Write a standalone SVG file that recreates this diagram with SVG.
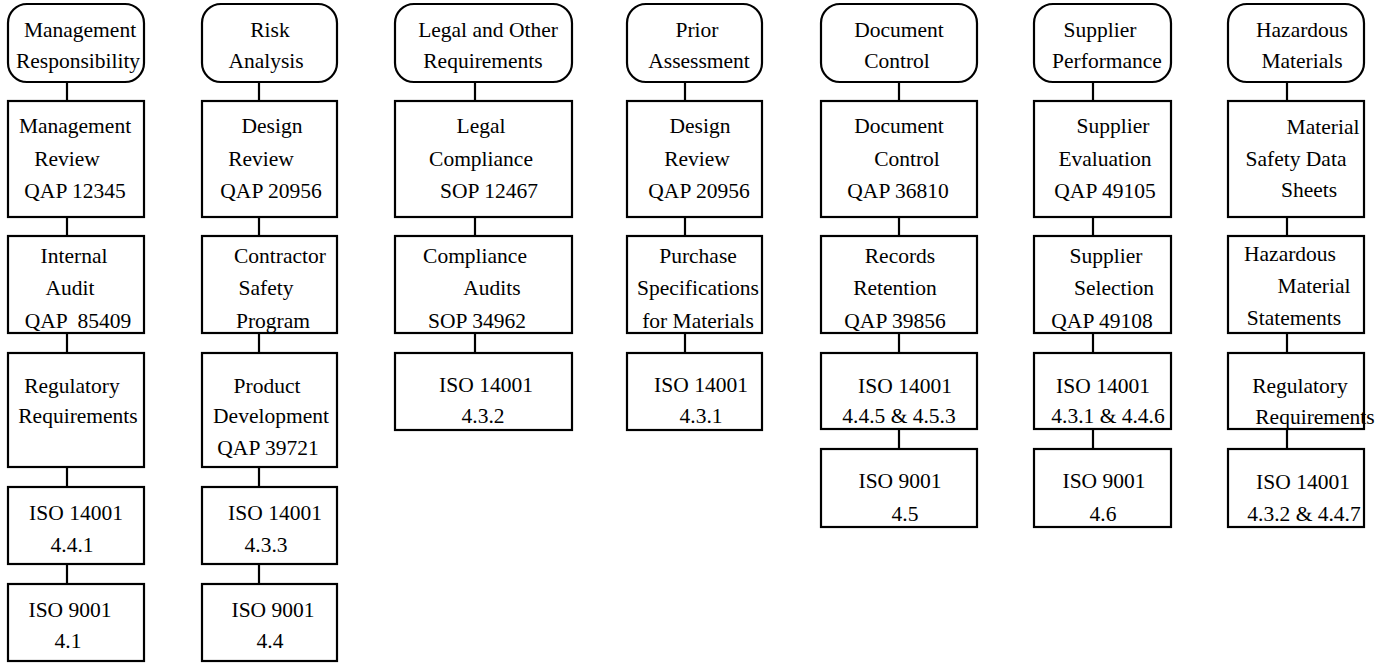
<svg xmlns="http://www.w3.org/2000/svg" width="1382" height="663" viewBox="0 0 1382 663">
<style>
.hd{fill:#fff;stroke:#000;stroke-width:2.2}
.bx{fill:#fff;stroke:#000;stroke-width:2.2}
.ln{stroke:#000;stroke-width:2.2;fill:none}
.t text{font-size:21.5px;fill:#000;text-anchor:middle}
</style>
<rect width="1382" height="663" fill="#fff"/>
<g id="connectors">
<path class="ln" d="M67,82V101M67,217V236M67,333V353M67,467V487M67,564V584"/>
<path class="ln" d="M259,82V101M259,217V236M259,333V353M259,467V487M259,564V584"/>
<path class="ln" d="M475,82V101M475,217V236M475,333V353"/>
<path class="ln" d="M685,82V101M685,217V236M685,333V353"/>
<path class="ln" d="M899,82V101M899,217V236M899,333V353M899,429V449"/>
<path class="ln" d="M1093,82V101M1093,217V236M1093,333V353M1093,429V449"/>
<path class="ln" d="M1287,82V101M1287,217V236M1287,333V353M1287,429V449"/>
</g>
<g class="t" font-family="Liberation Serif, Tinos, Times New Roman, DejaVu Serif, serif">
<!-- Column 1 -->
<g id="c1h"><rect class="hd" x="8" y="4" width="136" height="78" rx="19"/><text x="80" y="37">Management</text><text x="78" y="68">Responsibility</text></g>
<g id="c1a"><rect class="bx" x="8" y="101" width="136" height="116"/><text x="75" y="133">Management</text><text x="67" y="166">Review</text><text x="75" y="198">QAP 12345</text></g>
<g id="c1b"><rect class="bx" x="8" y="236" width="136" height="97"/><text x="74" y="263">Internal</text><text x="70" y="295">Audit</text><text x="78" y="328" xml:space="preserve">QAP  85409</text></g>
<g id="c1c"><rect class="bx" x="8" y="353" width="136" height="114"/><text x="72" y="393">Regulatory</text><text x="78" y="423">Requirements</text></g>
<g id="c1d"><rect class="bx" x="8" y="487" width="136" height="77"/><text x="76" y="520">ISO 14001</text><text x="72" y="552">4.4.1</text></g>
<g id="c1e"><rect class="bx" x="8" y="584" width="136" height="77"/><text x="70" y="617">ISO 9001</text><text x="68" y="648">4.1</text></g>
<!-- Column 2 -->
<g id="c2h"><rect class="hd" x="202" y="4" width="135" height="78" rx="19"/><text x="270" y="37">Risk</text><text x="266" y="68">Analysis</text></g>
<g id="c2a"><rect class="bx" x="202" y="101" width="135" height="116"/><text x="272" y="133">Design</text><text x="261" y="166">Review</text><text x="271" y="198">QAP 20956</text></g>
<g id="c2b"><rect class="bx" x="202" y="236" width="135" height="97"/><text x="280" y="263">Contractor</text><text x="266" y="295">Safety</text><text x="273" y="328">Program</text></g>
<g id="c2c"><rect class="bx" x="202" y="353" width="135" height="114"/><text x="267" y="393">Product</text><text x="271" y="423">Development</text><text x="268" y="455">QAP 39721</text></g>
<g id="c2d"><rect class="bx" x="202" y="487" width="135" height="77"/><text x="275" y="520">ISO 14001</text><text x="266" y="552">4.3.3</text></g>
<g id="c2e"><rect class="bx" x="202" y="584" width="135" height="77"/><text x="273" y="617">ISO 9001</text><text x="270" y="648">4.4</text></g>
<!-- Column 3 -->
<g id="c3h"><rect class="hd" x="395" y="4" width="177" height="78" rx="19"/><text x="488" y="37">Legal and Other</text><text x="483" y="68">Requirements</text></g>
<g id="c3a"><rect class="bx" x="395" y="101" width="177" height="116"/><text x="481" y="133">Legal</text><text x="481" y="166">Compliance</text><text x="489" y="198">SOP 12467</text></g>
<g id="c3b"><rect class="bx" x="395" y="236" width="177" height="97"/><text x="475" y="263">Compliance</text><text x="492" y="295">Audits</text><text x="477" y="328">SOP 34962</text></g>
<g id="c3c"><rect class="bx" x="395" y="353" width="177" height="77"/><text x="486" y="392">ISO 14001</text><text x="483" y="423">4.3.2</text></g>
<!-- Column 4 -->
<g id="c4h"><rect class="hd" x="627" y="4" width="135" height="78" rx="19"/><text x="697" y="37">Prior</text><text x="699" y="68">Assessment</text></g>
<g id="c4a"><rect class="bx" x="627" y="101" width="135" height="116"/><text x="700" y="133">Design</text><text x="697" y="166">Review</text><text x="699" y="198">QAP 20956</text></g>
<g id="c4b"><rect class="bx" x="627" y="236" width="135" height="97"/><text x="698" y="263">Purchase</text><text x="698" y="295">Specifications</text><text x="698" y="328">for Materials</text></g>
<g id="c4c"><rect class="bx" x="627" y="353" width="135" height="77"/><text x="701" y="392">ISO 14001</text><text x="701" y="423">4.3.1</text></g>
<!-- Column 5 -->
<g id="c5h"><rect class="hd" x="821" y="4" width="156" height="78" rx="19"/><text x="899" y="37">Document</text><text x="897" y="68">Control</text></g>
<g id="c5a"><rect class="bx" x="821" y="101" width="156" height="116"/><text x="899" y="133">Document</text><text x="907" y="166">Control</text><text x="898" y="198">QAP 36810</text></g>
<g id="c5b"><rect class="bx" x="821" y="236" width="156" height="97"/><text x="900" y="263">Records</text><text x="895" y="295">Retention</text><text x="895" y="328">QAP 39856</text></g>
<g id="c5c"><rect class="bx" x="821" y="353" width="156" height="76"/><text x="905" y="393">ISO 14001</text><text x="899" y="423">4.4.5 &amp; 4.5.3</text></g>
<g id="c5d"><rect class="bx" x="821" y="449" width="156" height="78"/><text x="900" y="488">ISO 9001</text><text x="905" y="521">4.5</text></g>
<!-- Column 6 -->
<g id="c6h"><rect class="hd" x="1034" y="4" width="137" height="78" rx="19"/><text x="1100" y="37">Supplier</text><text x="1107" y="68">Performance</text></g>
<g id="c6a"><rect class="bx" x="1034" y="101" width="137" height="116"/><text x="1113" y="133">Supplier</text><text x="1105" y="166">Evaluation</text><text x="1105" y="198">QAP 49105</text></g>
<g id="c6b"><rect class="bx" x="1034" y="236" width="137" height="97"/><text x="1106" y="263">Supplier</text><text x="1114" y="295">Selection</text><text x="1102" y="328">QAP 49108</text></g>
<g id="c6c"><rect class="bx" x="1034" y="353" width="137" height="76"/><text x="1103" y="393">ISO 14001</text><text x="1108" y="423">4.3.1 &amp; 4.4.6</text></g>
<g id="c6d"><rect class="bx" x="1034" y="449" width="137" height="78"/><text x="1104" y="488">ISO 9001</text><text x="1103" y="521">4.6</text></g>
<!-- Column 7 -->
<g id="c7h"><rect class="hd" x="1228" y="4" width="136" height="78" rx="19"/><text x="1302" y="37">Hazardous</text><text x="1302" y="68">Materials</text></g>
<g id="c7a"><rect class="bx" x="1228" y="101" width="136" height="116"/><text x="1323" y="134">Material</text><text x="1296" y="166">Safety Data</text><text x="1309" y="197">Sheets</text></g>
<g id="c7b"><rect class="bx" x="1228" y="236" width="136" height="97"/><text x="1290" y="261">Hazardous</text><text x="1314" y="293">Material</text><text x="1294" y="325">Statements</text></g>
<g id="c7c"><rect class="bx" x="1228" y="353" width="136" height="76"/><text x="1300" y="393">Regulatory</text><text x="1315" y="424">Requirements</text></g>
<g id="c7d"><rect class="bx" x="1228" y="449" width="136" height="78"/><text x="1303" y="489">ISO 14001</text><text x="1304" y="521">4.3.2 &amp; 4.4.7</text></g>
</g>
</svg>
